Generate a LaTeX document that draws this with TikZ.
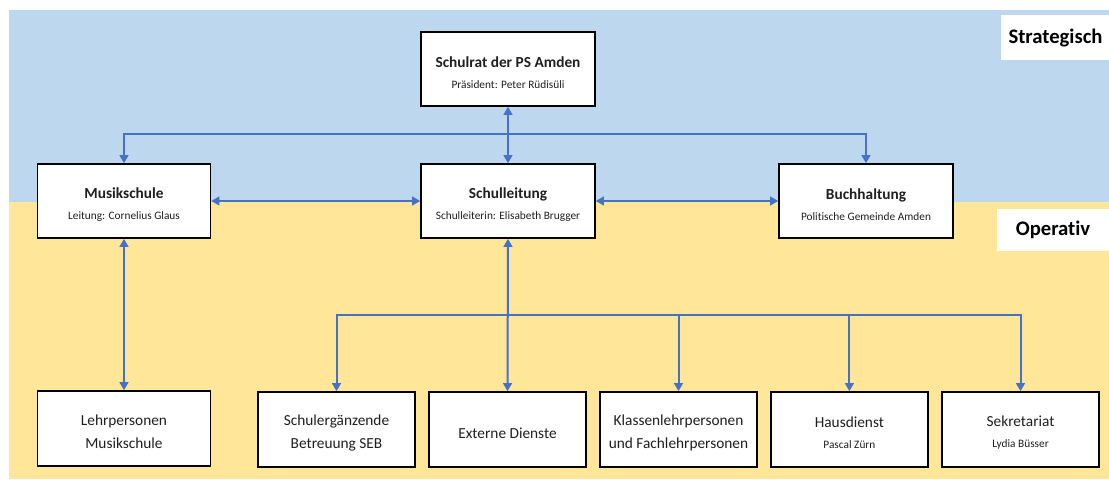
\documentclass[tikz,border=0pt]{standalone}
\usepackage{fontspec}
\setmainfont{Carlito}[Ligatures=NoCommon]
\usetikzlibrary{arrows.meta}
\definecolor{bgblue}{HTML}{BDD7EE}
\definecolor{bgyellow}{HTML}{FFE699}
\definecolor{lineblue}{HTML}{4472C4}
\definecolor{txt}{HTML}{1F1F1F}
\tikzset{
  topbox/.style={draw=black, line width=1.2pt, fill=white, minimum width=130.5pt, minimum height=55.5pt, align=center, inner sep=0pt, text=txt, font=\fontsize{8.5}{15.75}\selectfont},
  botbox/.style={draw=black, line width=1.2pt, fill=white, minimum width=117.75pt, minimum height=56.25pt, align=center, inner sep=0pt, text=txt, font=\fontsize{11.5}{17.5}\selectfont},
  smallbox/.style={botbox, font=\fontsize{8.5}{15.5}\selectfont},
  levelbox/.style={fill=white, inner sep=0pt, font=\bfseries\fontsize{15.5}{18}\selectfont, text=black},
  conn/.style={draw=lineblue, line width=1.5pt},
  arr/.style={conn, -{Triangle[length=6pt,width=6.5pt]}},
  darr/.style={conn, {Triangle[length=6pt,width=6.5pt]}-{Triangle[length=6pt,width=6.5pt]}}
}
\newcommand{\lift}[1]{\rule{0pt}{#1}}
\newcommand{\ttlx}[1]{{\bfseries\fontsize{11.5}{13}\selectfont\lift{13.3pt}#1}}
\newcommand{\bigx}[1]{{\fontsize{11.5}{13}\selectfont\lift{13pt}#1}}
\begin{document}
\begin{tikzpicture}[x=0.75pt,y=-0.75pt]
\useasboundingbox (0,0) rectangle (1109,479);
% backgrounds
\fill[bgblue] (8.6,10) rectangle (1109,202);
\fill[bgyellow] (8.6,202) rectangle (1109,478.5);
% level labels
\node[levelbox, minimum width=81.75pt, minimum height=33.75pt] (strat) at (1055.5,37.5) {Strategisch};
\node[levelbox, minimum width=84pt, minimum height=31.5pt] (oper) at (1053,229.5) {Operativ};
% top boxes
\node[topbox] (sr) at (508,69) {\ttlx{Schulrat der PS Amden}\\Präsident: Peter Rüdisüli};
\node[topbox, minimum width=129.75pt] (ml) at (124,201) {\ttlx{Musikschule}\\Leitung: Cornelius Glaus};
\node[topbox] (sl) at (508,201) {\ttlx{Schulleitung}\\Schulleiterin: Elisabeth Brugger};
\node[topbox] (bh) at (866,201) {\ttlx{Buchhaltung}\\Politische Gemeinde Amden};
% bottom boxes
\node[botbox, minimum width=129.75pt] (lp) at (124,428.5) {\lift{13pt}Lehrpersonen\\Musikschule};
\node[botbox] (seb) at (336.5,429.5) {\lift{13pt}Schulergänzende\\Betreuung SEB};
\node[botbox] (ext) at (507.5,429.5) {\lift{14pt}Externe Dienste};
\node[botbox] (kl) at (678.5,429.5) {\lift{13pt}Klassenlehrpersonen\\und Fachlehrpersonen};
\node[smallbox] (hd) at (849.4,429.5) {\bigx{Hausdienst}\\Pascal Zürn};
\node[smallbox] (sk) at (1020.5,429.5) {\bigx{Sekretariat}\\Lydia Büsser};
% bus coordinates
\coordinate (busT) at (508,134);
\coordinate (busB) at (508,315);
% connectors
\draw[arr] (busT) -| (ml.north);
\draw[arr] (busT) -| (bh.north);
\draw[darr] (sr.south) -- (sl.north);
\draw[darr] (ml.east) -- (sl.west);
\draw[darr] (sl.east) -- (bh.west);
\draw[darr] (ml.south) -- (lp.north);
\draw[darr] (sl.south) -- (ext.north);
\draw[arr] (busB) -| (seb.north);
\draw[arr] (busB) -| (kl.north);
\draw[arr] (busB) -| (hd.north);
\draw[arr] (busB) -| (sk.north);
\end{tikzpicture}
\end{document}
